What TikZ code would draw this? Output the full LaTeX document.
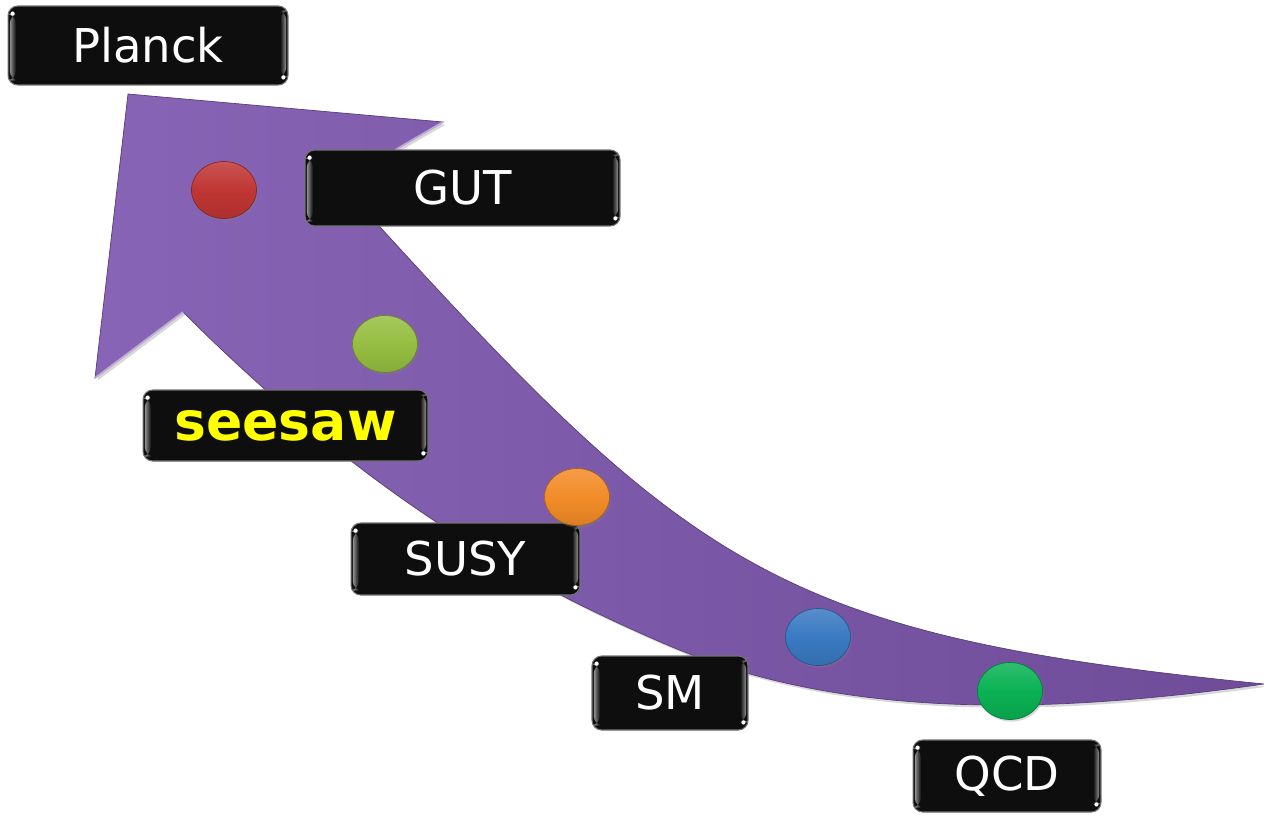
\documentclass[tikz,border=0pt]{standalone}
\usepackage{fontspec}
\setmainfont{DejaVu Sans}
\usetikzlibrary{shapes.geometric,shadows,calc}
\definecolor{bandL}{RGB}{136,100,182}
\definecolor{bandR}{RGB}{110,76,152}
\definecolor{boxfill}{RGB}{14,14,14}
\definecolor{cred}{RGB}{192,54,52}
\definecolor{clime}{RGB}{150,190,66}
\definecolor{corange}{RGB}{242,140,40}
\definecolor{cblue}{RGB}{58,122,194}
\definecolor{cgreen}{RGB}{10,178,84}
\definecolor{seesawyellow}{RGB}{255,255,0}
\tikzset{
  lbox/.style={rectangle, rounded corners=5.5pt, fill=boxfill, draw=black!55,
    line width=0.6pt, text=white, inner sep=0pt,
    font=\fontsize{26.5}{30}\selectfont,
    path picture={
      \coordinate (pNW) at (path picture bounding box.north west);
      \coordinate (pSE) at (path picture bounding box.south east);
      \shade[left color=gray!85!white, right color=boxfill]
        ($(pNW)+(1pt,-4.5pt)$) rectangle ($(pNW|-pSE)+(4.5pt,2.5pt)$);
      \shade[left color=boxfill, right color=gray!85!white]
        ($(pSE|-pNW)+(-4.5pt,-2.5pt)$) rectangle ($(pSE)+(-1pt,4.5pt)$);
      \fill[white] ($(pNW)+(2.6pt,-4.3pt)$) circle (1.2pt);
      \fill[white] ($(pSE)+(-2.6pt,4.3pt)$) circle (1.2pt);
    }},
  dot/.style={ellipse, minimum width=1.3cm, minimum height=1.14cm, inner sep=0pt,
    draw=#1!70!black, line width=0.4pt, top color=#1!85!white, bottom color=#1!90!black,
    middle color=#1,
    drop shadow={opacity=0.3, shadow xshift=0.8pt, shadow yshift=-1.2pt}},
}
\begin{document}
\begin{tikzpicture}[x=0.02cm, y=-0.02cm]
\useasboundingbox (0,0) rectangle (1264,815);
\fill[white] (0,0) rectangle (1264,815);

% the curved arrow
\path[left color=bandL, right color=bandR, draw=bandR!80!black, line width=0.4pt,
      drop shadow={opacity=0.3, shadow xshift=1.5pt, shadow yshift=-1.5pt}]
  (128,94) -- (443,122) -- (339,182)
  .. controls (689,567) and (764,634) .. (1264,684)
  .. controls (1000,722) and (815,708.5) .. (665,644)
  .. controls (545,592) and (383,512) .. (183,312)
  -- (95,378) -- cycle;
\draw[bandL!55!white, line width=1pt] (95,378) -- (183,312);
\draw[bandL!55!white, line width=1pt] (443,122) -- (395,150);

% labels
\node[lbox, minimum width=5.6cm, minimum height=1.58cm] (planck) at (148,45.5) {Planck};
\node[lbox, minimum width=6.3cm, minimum height=1.52cm] (gut) at (462.5,188) {GUT};
\node[lbox, minimum width=5.7cm, minimum height=1.42cm, text=seesawyellow,
      font=\bfseries\fontsize{30.5}{34}\selectfont] (seesaw) at (285.5,425.5) {seesaw};
\node[lbox, minimum width=4.58cm, minimum height=1.44cm] (susy) at (465.5,559) {SUSY};
\node[lbox, minimum width=3.12cm, minimum height=1.48cm] (sm) at (670,693) {SM};
\node[lbox, minimum width=3.76cm, minimum height=1.44cm] (qcd) at (1007,776) {QCD};

% dots
\node[dot=cred] (dred) at (224,190) {};
\node[dot=clime] (dlime) at (385,344) {};
\node[dot=corange] (dorange) at (577,497) {};
\node[dot=cblue] (dblue) at (818,637) {};
\node[dot=cgreen] (dgreen) at (1010,691) {};
\end{tikzpicture}
\end{document}
